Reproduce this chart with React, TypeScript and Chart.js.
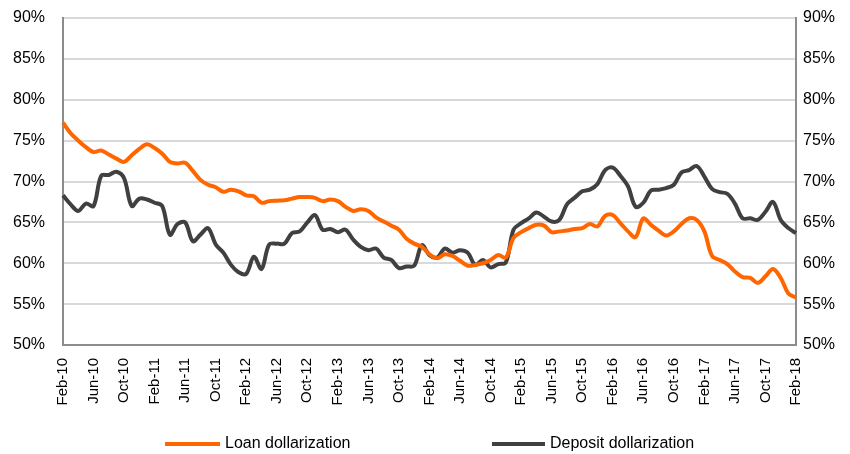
import React, { useEffect, useRef } from "react";
import { Chart, registerables } from "chart.js";

Chart.register(...registerables);

const startYear = 2010;
const startMonth = 1; // Feb (0-based)
const monthNames = ["Jan", "Feb", "Mar", "Apr", "May", "Jun", "Jul", "Aug", "Sep", "Oct", "Nov", "Dec"];

const loanDollarization = [
  77.2, 75.9, 75.0, 74.2, 73.6, 73.8, 73.3, 72.8, 72.4, 73.2, 74.0, 74.55, 74.1,
  73.4, 72.4, 72.2, 72.3, 71.3, 70.2, 69.6, 69.3, 68.75, 69.0, 68.8, 68.3,
  68.2, 67.4, 67.6, 67.65, 67.7, 67.9, 68.1, 68.1, 68.0, 67.6, 67.8, 67.6,
  66.9, 66.4, 66.6, 66.4, 65.6, 65.1, 64.6, 64.1, 63.0, 62.4, 62.0, 61.1,
  60.6, 61.1, 60.9, 60.3, 59.7, 59.8, 60.0, 60.4, 61.0, 60.7, 63.1, 63.8,
  64.3, 64.7, 64.6, 63.8, 63.9, 64.0, 64.2, 64.3, 64.8, 64.5, 65.8, 65.9,
  64.9, 63.9, 63.2, 65.5, 64.7, 64.0, 63.4, 63.9, 64.8, 65.5, 65.3, 63.9,
  60.9, 60.4, 59.9, 59.0, 58.3, 58.2, 57.6, 58.4, 59.3, 58.2, 56.3, 55.8,
];

const depositDollarization = [
  68.3, 67.2, 66.4, 67.3, 67.0, 70.7, 70.8, 71.2, 70.4, 67.0, 67.9, 67.8, 67.4,
  67.0, 63.5, 64.8, 65.0, 62.7, 63.5, 64.3, 62.3, 61.3, 59.8, 58.9, 58.7,
  60.8, 59.3, 62.3, 62.4, 62.4, 63.7, 63.9, 65.0, 65.9, 64.1, 64.2, 63.8,
  64.1, 62.9, 62.0, 61.6, 61.8, 60.7, 60.4, 59.4, 59.6, 59.7, 62.2, 61.0,
  60.7, 61.8, 61.3, 61.6, 61.3, 59.8, 60.4, 59.5, 59.9, 60.1, 64.1, 64.9,
  65.5, 66.2, 65.7, 65.1, 65.3, 67.2, 68.0, 68.8, 69.0, 69.7, 71.4, 71.7,
  70.7, 69.4, 66.9, 67.4, 68.9, 69.0, 69.2, 69.6, 71.1, 71.4, 71.9, 70.6,
  69.1, 68.7, 68.5, 67.3, 65.5, 65.5, 65.3, 66.3, 67.5, 65.3, 64.3, 63.7,
];

const categories: string[] = loanDollarization.map((_, i) => {
  const m = startMonth + i;
  const y = startYear + Math.floor(m / 12);
  return monthNames[m % 12] + "-" + String(y % 100).padStart(2, "0");
});

const labelEvery = 4;
const yMin = 50;
const yMax = 90;
const yStep = 5;

const seriesNames = ["Loan dollarization", "Deposit dollarization"];
const seriesColors = ["#FF6600", "#404040"];

const FONT = "'Liberation Sans', Arial, sans-serif";

const legendPlugin = {
  id: "customLegend",
  afterDraw(chart: any) {
    const ctx = chart.ctx;
    const items = [
      { x1: 165, x2: 220, tx: 225 },
      { x1: 492, x2: 545, tx: 550 },
    ];
    const y = 444;
    ctx.save();
    chart.data.datasets.forEach((ds: any, i: number) => {
      const it = items[i];
      ctx.strokeStyle = ds.borderColor;
      ctx.lineWidth = 4;
      ctx.lineCap = "butt";
      ctx.beginPath();
      ctx.moveTo(it.x1, y);
      ctx.lineTo(it.x2, y);
      ctx.stroke();
      ctx.fillStyle = "#000";
      ctx.font = "16px " + FONT;
      ctx.textBaseline = "middle";
      ctx.textAlign = "left";
      ctx.fillText(ds.label, it.tx, y);
    });
    ctx.restore();
  },
};

export default function App() {
  const ref = useRef<HTMLCanvasElement | null>(null);
  useEffect(() => {
    document.body.style.margin = "0";
    if (!ref.current) return;
    const makeYTicks = (pad: number) => ({
      stepSize: yStep,
      color: "#000",
      font: { size: 16, family: FONT },
      padding: pad,
      callback: (v: any) => v + "%",
    });
    const chart = new Chart(ref.current, {
      type: "line",
      data: {
        labels: categories,
        datasets: [
          {
            label: seriesNames[0],
            data: loanDollarization,
            borderColor: seriesColors[0],
            backgroundColor: seriesColors[0],
            borderWidth: 4,
            pointRadius: 0,
            tension: 0.35,
            yAxisID: "y",
          },
          {
            label: seriesNames[1],
            data: depositDollarization,
            borderColor: seriesColors[1],
            backgroundColor: seriesColors[1],
            borderWidth: 4,
            pointRadius: 0,
            tension: 0.35,
            yAxisID: "y",
          },
        ],
      },
      options: {
        animation: false,
        responsive: false,
        maintainAspectRatio: false,
        layout: { padding: { top: 18, left: 0, right: 0, bottom: 0 } },
        plugins: { legend: { display: false }, tooltip: { enabled: false } },
        scales: {
          x: {
            type: "category",
            offset: false,
            grid: { display: false, drawTicks: false },
            border: { display: true, color: "#8c8c8c", width: 2 },
            ticks: {
              autoSkip: false,
              maxRotation: 90,
              minRotation: 90,
              padding: 13,
              color: "#000",
              font: { size: 15, family: FONT },
              callback: (_v: any, idx: number) => (idx % labelEvery === 0 ? categories[idx] : null),
            },
            afterFit: (s: any) => {
              s.height = 109;
            },
          },
          y: {
            position: "left",
            min: yMin,
            max: yMax,
            grid: { color: "#d9d9d9", lineWidth: 2, drawTicks: false },
            border: { display: true, color: "#8c8c8c", width: 2 },
            ticks: makeYTicks(18),
            afterFit: (s: any) => {
              s.width = 63;
              s.paddingTop = 9;
              s.paddingBottom = 9;
            },
          },
          y2: {
            position: "right",
            min: yMin,
            max: yMax,
            grid: { display: false, drawTicks: false },
            border: { display: true, color: "#8c8c8c", width: 2 },
            ticks: makeYTicks(7),
            afterFit: (s: any) => {
              s.width = 54;
              s.paddingTop = 9;
              s.paddingBottom = 9;
            },
          },
        },
      },
      plugins: [legendPlugin],
    });
    return () => chart.destroy();
  }, []);
  return (
    <div style={{ width: 850, height: 454 }}>
      <canvas ref={ref} width={850} height={454} style={{ display: "block" }} />
    </div>
  );
}
